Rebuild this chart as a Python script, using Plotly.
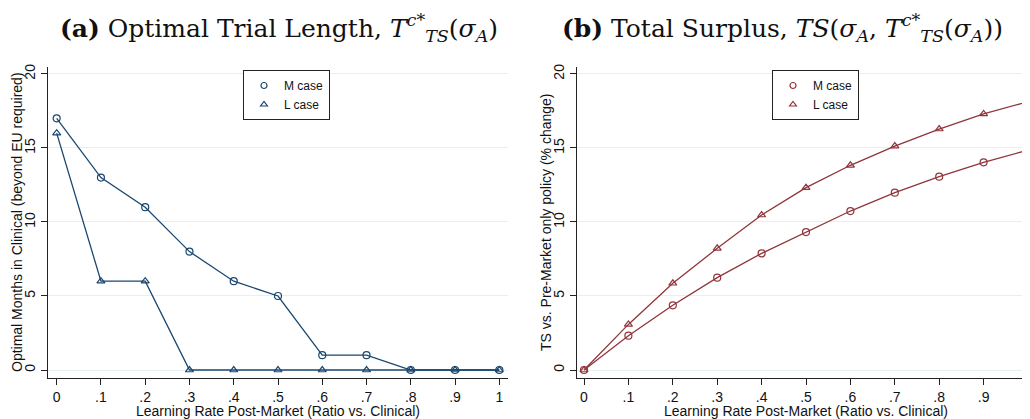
import plotly.graph_objects as go

# ---- data ----
learning_rate = [0, 0.1, 0.2, 0.3, 0.4, 0.5, 0.6, 0.7, 0.8, 0.9, 1.0]
x_tick_labels = ["0", ".1", ".2", ".3", ".4", ".5", ".6", ".7", ".8", ".9", "1"]
y_tick_vals = [0, 5, 10, 15, 20]

months_m = [17, 13, 11, 8, 6, 5, 1, 1, 0, 0, 0]
months_l = [16, 6, 6, 0, 0, 0, 0, 0, 0, 0, 0]

ts_m = [0, 2.32, 4.37, 6.24, 7.88, 9.32, 10.74, 11.98, 13.06, 14.03, 14.86]
ts_l = [0, 3.08, 5.86, 8.22, 10.47, 12.32, 13.83, 15.13, 16.28, 17.3, 18.13]

NAVY = "#1a476f"
MAROON = "#90353b"
GRID = "#e6eff1"
OFF = 8                      # page body margin
W, H = 1030 - OFF, 419 - OFF

def px(x):
    return (x - OFF) / W

def py(y):
    return 1 - (y - OFF) / H

fig = go.Figure()

def add_series(xref, yref, y, color, symbol, name, legend):
    fig.add_trace(go.Scatter(
        x=learning_rate, y=y, xaxis=xref, yaxis=yref, mode="lines+markers",
        line=dict(color=color, width=1.3),
        marker=dict(symbol=symbol, size=7, color=color, line=dict(color=color, width=1.2)),
        showlegend=False, name=name, cliponaxis=False))
    fig.add_trace(go.Scatter(
        x=[None], y=[None], xaxis=xref, yaxis=yref, mode="markers",
        marker=dict(symbol=symbol, size=6, color=color, line=dict(color=color, width=1.2)),
        name=name, showlegend=True, legend=legend))

add_series("x", "y", months_m, NAVY, "circle-open", "M case", "legend")
add_series("x", "y", months_l, NAVY, "triangle-up-open", "L case", "legend")
add_series("x2", "y2", ts_m, MAROON, "circle-open", "M case", "legend2")
add_series("x2", "y2", ts_l, MAROON, "triangle-up-open", "L case", "legend2")

font_tick = dict(family="Liberation Sans, Arial, sans-serif", size=14, color="#111")

xaxis_common = dict(
    tickvals=learning_rate, ticktext=x_tick_labels, tickfont=font_tick,
    showline=True, linecolor="#222", linewidth=1.2, ticks="outside", ticklen=6,
    tickcolor="#222", showgrid=False, zeroline=False, mirror=False, automargin=False,
    ticklabeloverflow="allow")
yaxis_common = dict(
    tickvals=y_tick_vals, tickfont=font_tick, tickangle=-90, range=[-0.54, 20.47],
    showline=True, linecolor="#222", linewidth=1.2, ticks="outside", ticklen=6,
    tickcolor="#222", showgrid=True, gridcolor=GRID, gridwidth=1, zeroline=False,
    domain=[py(378), py(67)], automargin=False, ticklabeloverflow="allow")

legfont = dict(family="Liberation Sans, Arial, sans-serif", size=12, color="#111")
fig.update_layout(
    width=W, height=H, margin=dict(l=0, r=0, t=0, b=0, autoexpand=False),
    paper_bgcolor="white", plot_bgcolor="white",
    xaxis=dict(xaxis_common, domain=[px(48), px(508)], range=[-0.0196, 1.0196], anchor="y"),
    yaxis=dict(yaxis_common, anchor="x"),
    xaxis2=dict(xaxis_common, domain=[px(577), 1.0], range=[-0.0158, 1.0045], anchor="y2"),
    yaxis2=dict(yaxis_common, anchor="x2"),
    legend=dict(x=px(243), y=py(70), xanchor="left", yanchor="top",
                bordercolor="#222", borderwidth=1, bgcolor="white",
                font=legfont, itemwidth=30, tracegroupgap=0),
    legend2=dict(x=px(772), y=py(70), xanchor="left", yanchor="top",
                 bordercolor="#222", borderwidth=1, bgcolor="white",
                 font=legfont, itemwidth=30, tracegroupgap=0),
)

serif = "DejaVu Serif, Liberation Serif, serif"
axfont = dict(family="Liberation Sans, Arial, sans-serif", size=14, color="#111")

def label(text, x, y, font, angle=0):
    return dict(text=text, x=px(x), y=py(y), xref="paper", yref="paper",
                xanchor="center", yanchor="middle", showarrow=False,
                textangle=angle, font=font)

ann = [
    label("<b>(a)</b> Optimal Trial Length, <i>T</i><sup><i>c*</i></sup><sub><i>TS</i></sub>(<i>σ</i><sub><i>A</i></sub>)",
          279, 28, dict(family=serif, size=25, color="#111")),
    label("<b>(b)</b> Total Surplus, <i>TS</i>(<i>σ</i><sub><i>A</i></sub>, <i>T</i><sup><i>c*</i></sup><sub><i>TS</i></sub>(<i>σ</i><sub><i>A</i></sub>))",
          782, 28, dict(family=serif, size=25, color="#111")),
    label("Learning Rate Post-Market (Ratio vs. Clinical)", 278, 411, axfont),
    label("Learning Rate Post-Market (Ratio vs. Clinical)", 806, 411, axfont),
    label("Optimal Months in Clinical (beyond EU required)", 17, 222, axfont, -90),
    label("TS vs. Pre-Market only policy (% change)", 546, 222, axfont, -90),
]
fig.update_layout(annotations=ann)

fig.write_html("out.html")
